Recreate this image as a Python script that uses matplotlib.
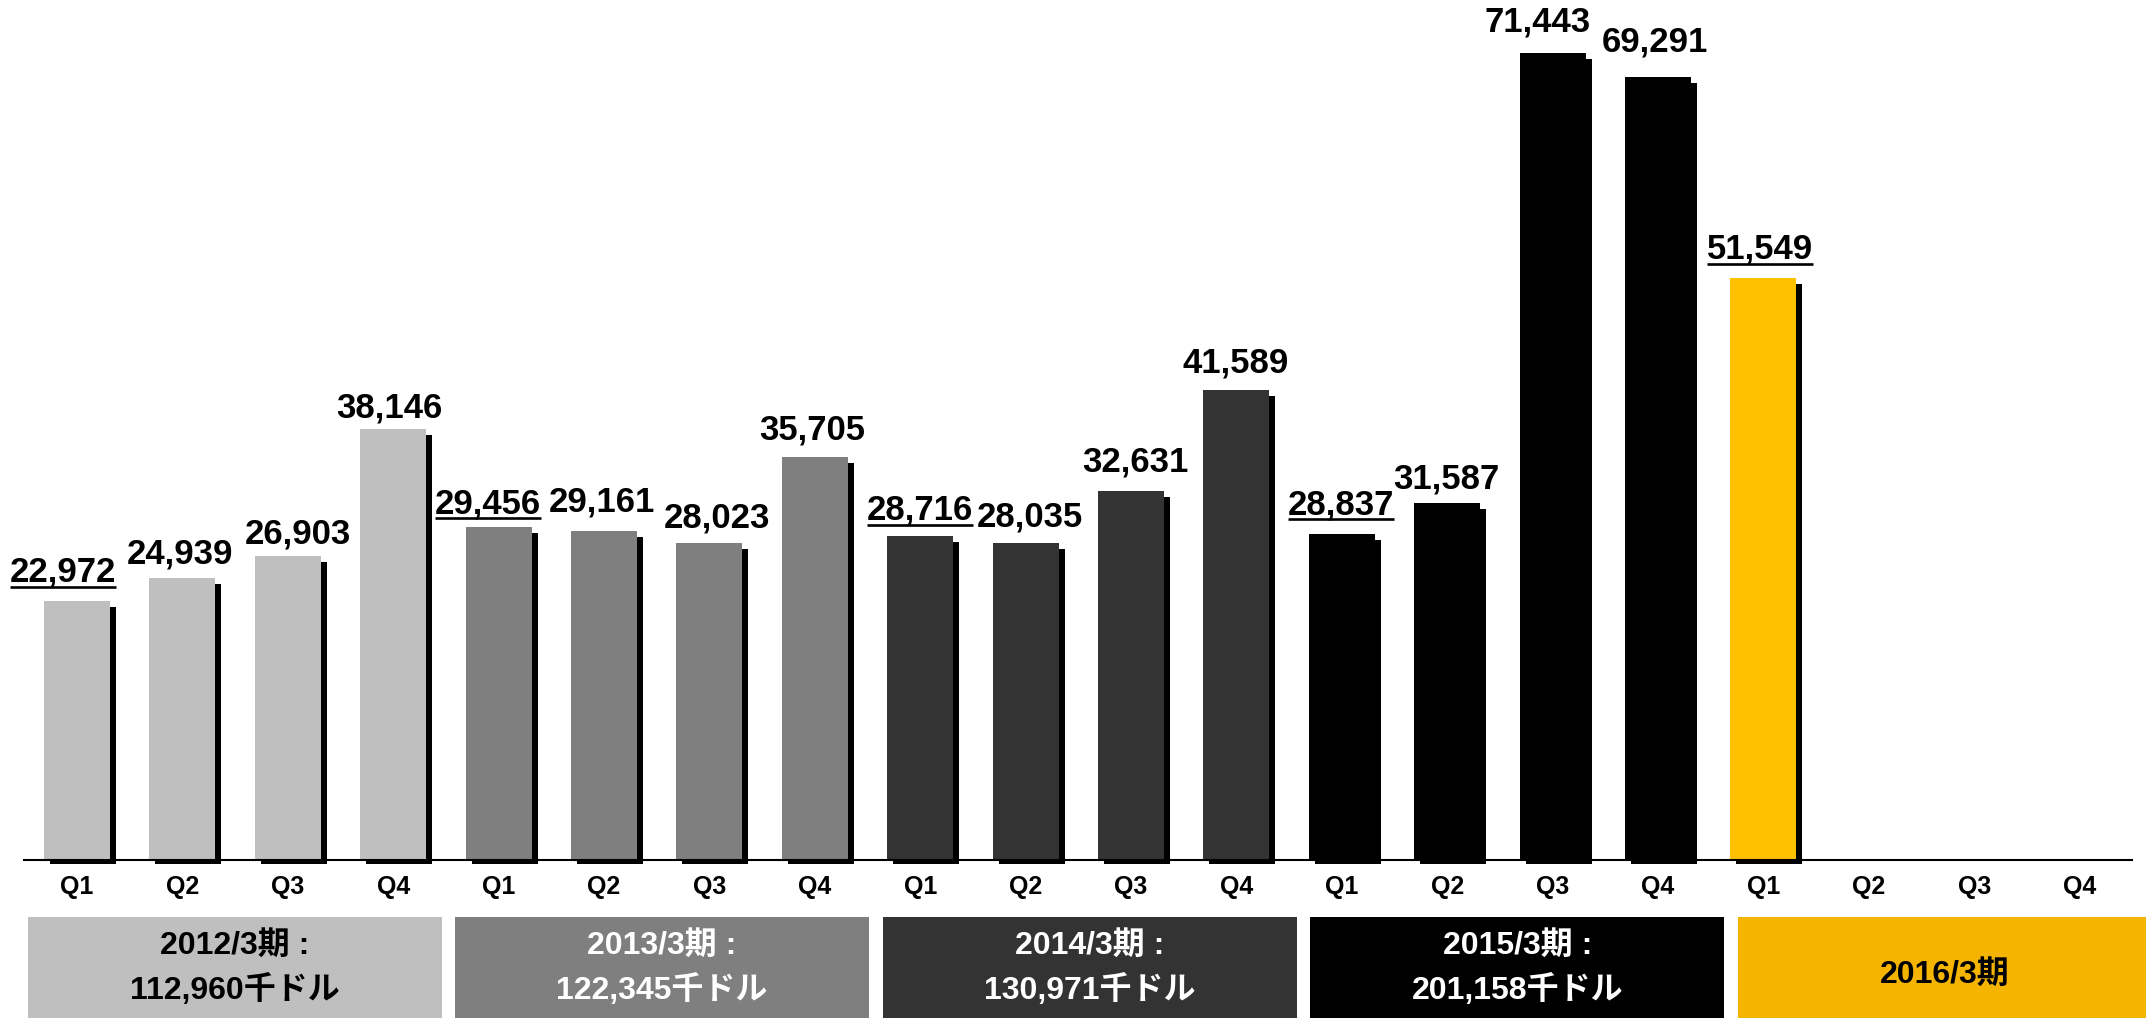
import matplotlib
matplotlib.use("Agg")
import matplotlib.pyplot as plt
from matplotlib.patches import Rectangle
from matplotlib.lines import Line2D
from matplotlib.transforms import blended_transform_factory, IdentityTransform

plt.rcParams["font.family"] = ["Liberation Sans", "Noto Sans CJK JP", "DejaVu Sans"]
plt.rcParams["font.weight"] = "bold"

# ---- data -------------------------------------------------------------
quarters = ["Q1", "Q2", "Q3", "Q4"]
fiscal_years = ["2012/3期", "2013/3期", "2014/3期", "2015/3期", "2016/3期"]
annual_totals = ["112,960", "122,345", "130,971", "201,158", None]
quarterly_sales = [22972, 24939, 26903, 38146,
                   29456, 29161, 28023, 35705,
                   28716, 28035, 32631, 41589,
                   28837, 31587, 71443, 69291,
                   51549]

# ---- styling ----------------------------------------------------------
bar_colors = ["#BFBFBF", "#7F7F7F", "#333333", "#000000", "#FFC000"]
box_colors = ["#BFBFBF", "#7F7F7F", "#333333", "#000000", "#F5B400"]
box_text_colors = ["black", "white", "white", "white", "black"]
label_dx = [-14, -2, 10, -4, -11, -2, 8, -3, 0, 4, 4, -1, -1, -1, -15, -3, -3]
label_dy = [19, 15, 13, 12, 14, 19, 16, 17, 16, 17, 20, 18, 20, 15, 21, 26, 19]

W, H, DPI = 2146, 1018, 100
fig = plt.figure(figsize=(W / DPI, H / DPI), dpi=DPI)
fig.patch.set_facecolor("white")

slot_px = 105.4
n_slots = len(fiscal_years) * len(quarters)
left_px = 77 - slot_px / 2
right_px = 77 + (n_slots - 1) * slot_px + slot_px / 2
base_px = 860            # baseline, pixels from top
ytop = 76133             # value at the top edge of the figure
px_per_unit = base_px / ytop

ax = fig.add_axes([left_px / W, (H - base_px) / H,
                   (right_px - left_px) / W, base_px / H])
ax.set_xlim(-0.5, n_slots - 0.5)
ax.set_ylim(0, ytop)
for s in ("top", "left", "right"):
    ax.spines[s].set_visible(False)
ax.spines["bottom"].set_linewidth(1.5)
ax.spines["bottom"].set_color("black")
ax.set_xticks([])
ax.set_yticks([])
ax.patch.set_alpha(0)

bar_w = 66 / slot_px
sh_dx = 6 / slot_px
sh_bottom = -4 / px_per_unit
sh_top_drop = 6 / px_per_unit

xs = list(range(len(quarterly_sales)))
colors = [bar_colors[i // 4] for i in xs]

# drop shadows
ax.bar([x + sh_dx for x in xs],
       [v - sh_top_drop - sh_bottom for v in quarterly_sales],
       bottom=sh_bottom, width=bar_w, color="black", zorder=1, clip_on=False)
# bars
ax.bar(xs, quarterly_sales, width=bar_w, color=colors, zorder=2)

# value labels
labels = []
for i, v in enumerate(quarterly_sales):
    t = ax.annotate(f"{v:,}", xy=(i, v),
                    xytext=(label_dx[i] * 0.72, label_dy[i] * 0.72),
                    textcoords="offset points", ha="center", va="baseline",
                    fontsize=25, fontweight="bold", color="black", zorder=5)
    labels.append(t)

# quarter labels under the axis
btr = blended_transform_factory(ax.transData, fig.transFigure)
for i in range(n_slots):
    ax.text(i, (H - 887) / H, quarters[i % 4], transform=btr,
            ha="center", va="center", fontsize=18, fontweight="bold",
            color="black")

# fiscal-year boxes along the bottom edge (figure pixel layout)
box_left0, box_step, box_w = 27.5, 427.6, 414
box_top = (H - 917) / H
for g, fy in enumerate(fiscal_years):
    x0 = (box_left0 + g * box_step) / W
    fig.add_artist(Rectangle((x0, -0.01), box_w / W, box_top + 0.01,
                             transform=fig.transFigure,
                             facecolor=box_colors[g], edgecolor="none",
                             zorder=3))
    xc = x0 + box_w / W / 2
    tc = box_text_colors[g]
    if annual_totals[g] is not None:
        fig.text(xc, (H - 946) / H, f"{fy} :", ha="center", va="center",
                 fontsize=23, fontweight="bold", color=tc, zorder=4)
        fig.text(xc, (H - 990) / H, f"{annual_totals[g]}千ドル",
                 ha="center", va="center", fontsize=23, fontweight="bold",
                 color=tc, zorder=4)
    else:
        fig.text(xc, (H - 975) / H, fy, ha="center", va="center",
                 fontsize=23, fontweight="bold", color=tc, zorder=4)

# underline the first-quarter figures
fig.canvas.draw()
renderer = fig.canvas.get_renderer()
for i, t in enumerate(labels):
    if i % 4 != 0:
        continue
    bb = t.get_window_extent(renderer)
    _, y_anchor = ax.transData.transform((i, quarterly_sales[i]))
    y_base = y_anchor + label_dy[i]
    fig.add_artist(Line2D([bb.x0, bb.x1], [y_base - 5, y_base - 5],
                          transform=IdentityTransform(), color="black",
                          linewidth=1.9, solid_capstyle="butt"))

fig.savefig("out.png", dpi=DPI, facecolor="white")
